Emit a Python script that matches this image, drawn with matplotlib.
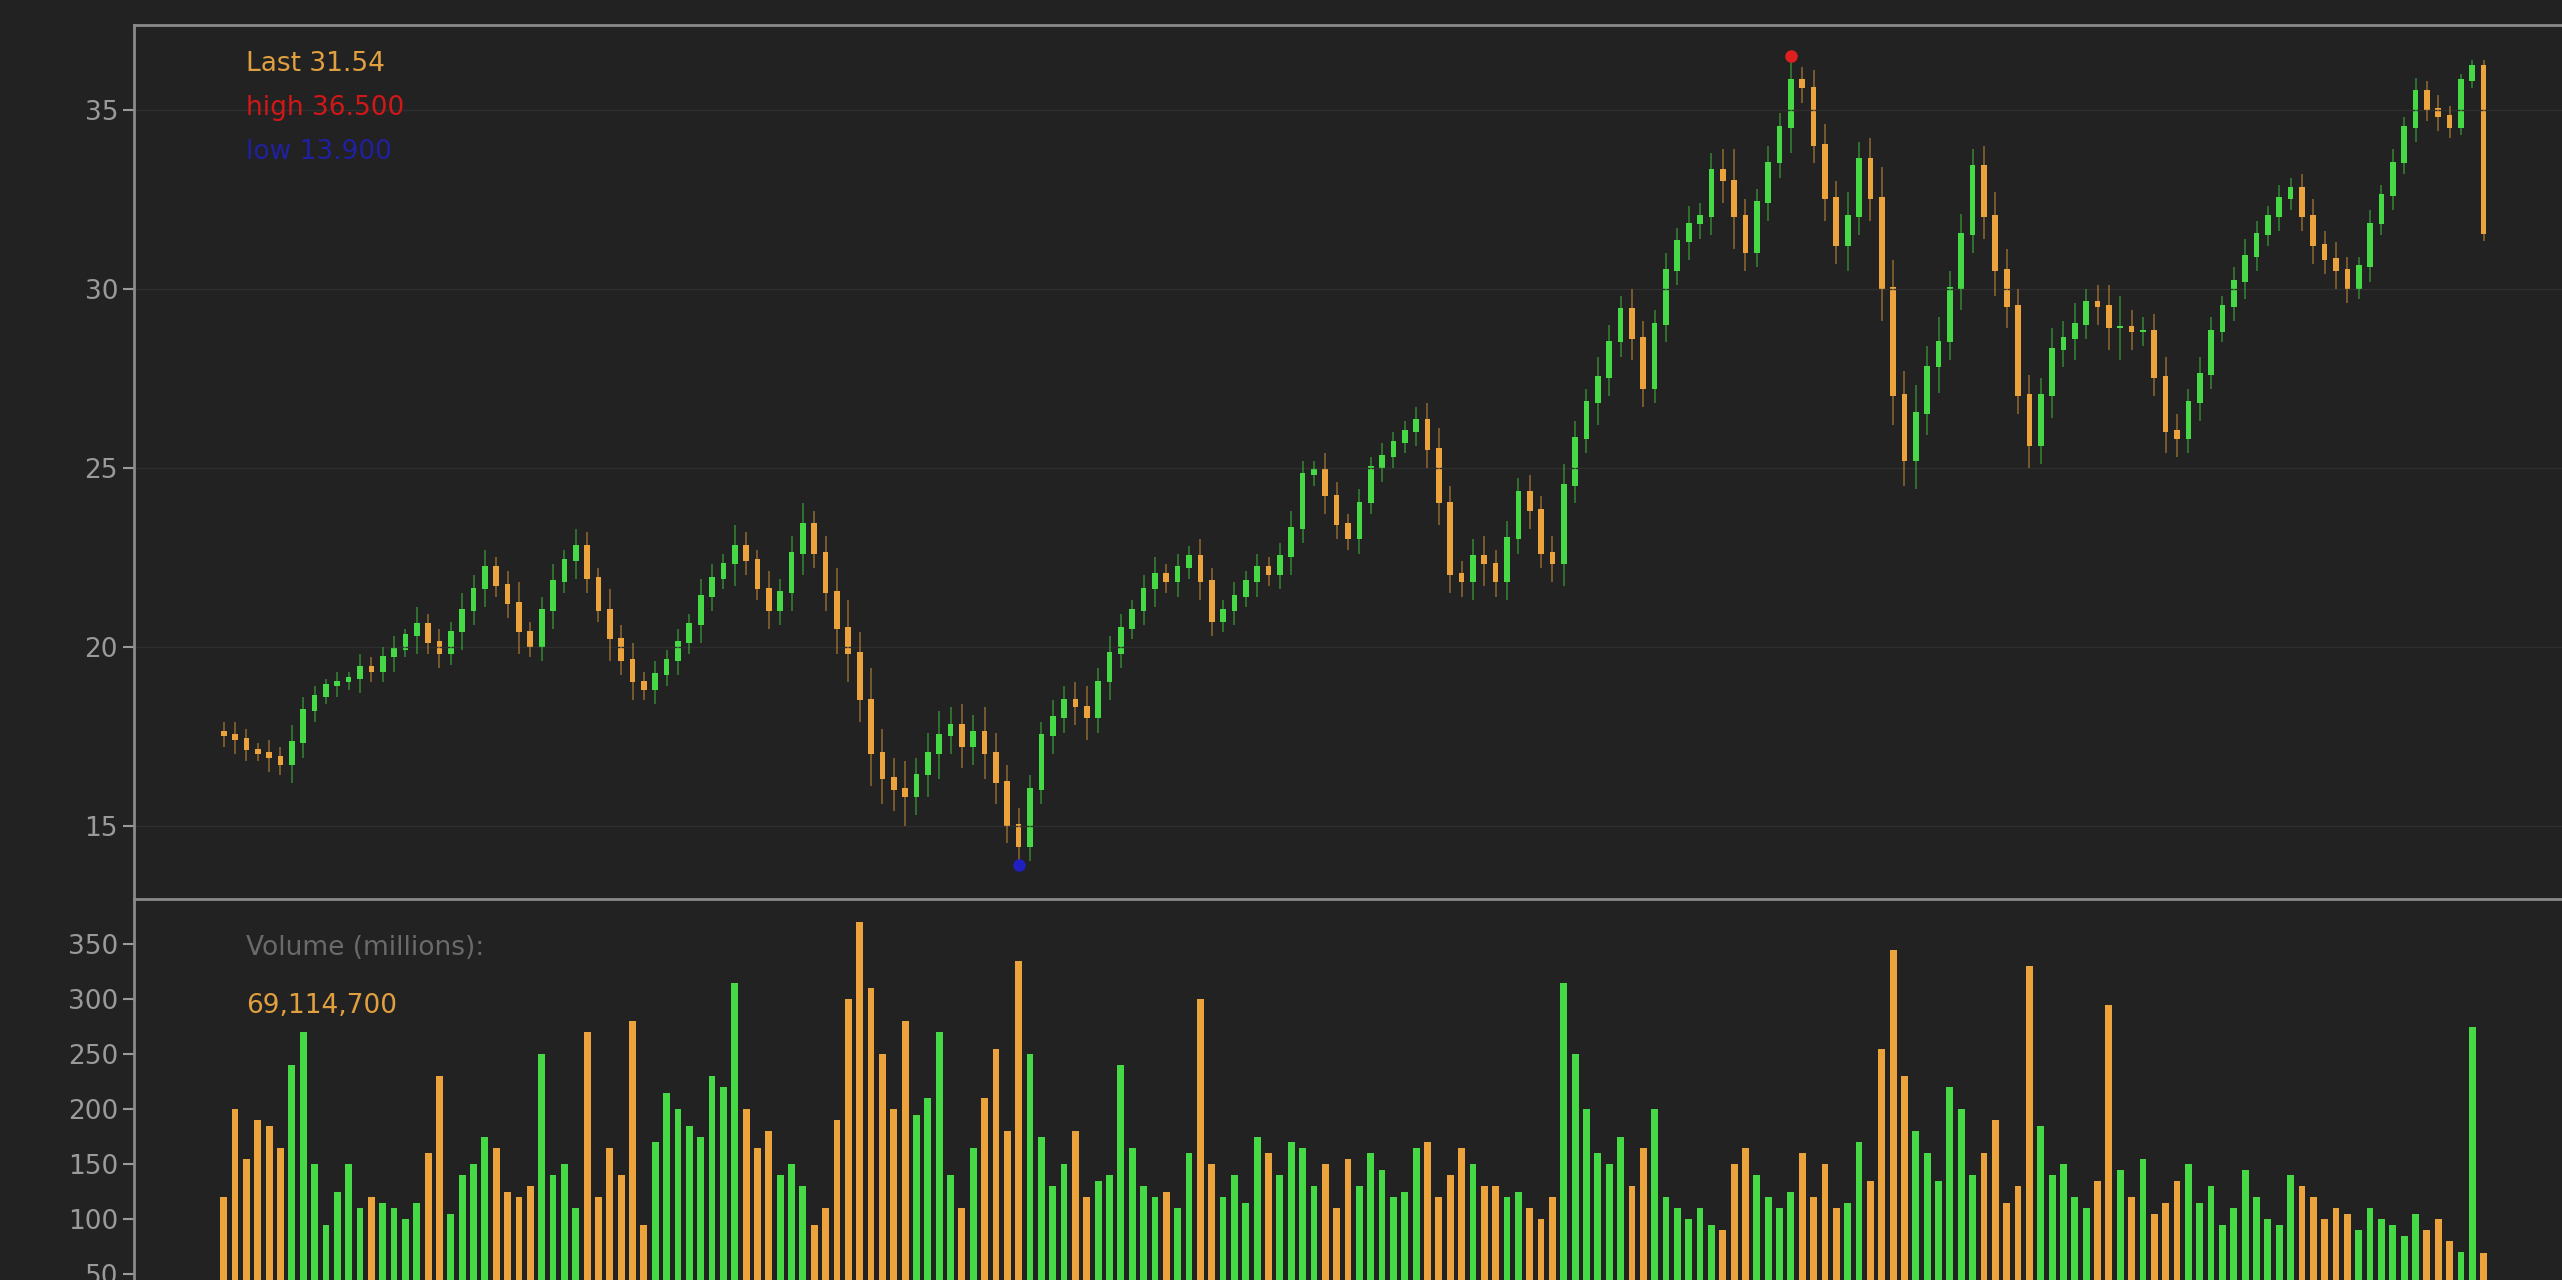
import matplotlib.pyplot as plt
import numpy as np

# closing prices
closes = [
    17.5, 17.4, 17.1, 17.0, 16.9, 16.7,
    17.3, 18.2, 18.6, 18.9,
    19.0, 19.1, 19.4, 19.3, 19.7, 19.9, 20.3, 20.6,
    20.1, 19.8,
    20.4, 21.0, 21.6, 22.2,
    21.7, 21.2, 20.4, 20.0,
    21.0, 21.8, 22.4, 22.8,
    21.9, 21.0, 20.2, 19.6, 19.0, 18.8,
    19.2, 19.6, 20.1,
    20.6, 21.4, 21.9, 22.3, 22.8,
    22.4, 21.6, 21.0,
    21.5, 22.6, 23.4,
    22.6, 21.5, 20.5, 19.8, 18.5,
    17.0, 16.3, 16.0, 15.8,
    16.4, 17.0, 17.5, 17.8,
    17.2, 17.6, 17.0, 16.2,
    15.0, 14.4,
    16.0, 17.5, 18.0, 18.5,
    18.3, 18.0, 19.0,
    19.8, 20.5, 21.0, 21.6, 22.0,
    21.8, 22.2, 22.5,
    21.8, 20.7, 21.0,
    21.4, 21.8, 22.2, 22.0,
    22.5, 23.3, 24.8,
    24.9, 24.2, 23.4,
    23.0, 24.0, 25.0,
    25.3, 25.7, 26.0, 26.3,
    25.5, 24.0, 22.0,
    21.8, 22.5, 22.3,
    21.8, 23.0, 24.3,
    23.8, 22.6, 22.3,
    24.5, 25.8, 26.8, 27.5,
    28.5, 29.4, 28.6,
    27.2, 29.0, 30.5,
    31.3, 31.8, 32.0,
    33.3, 33.0, 32.0, 31.0,
    32.4, 33.5, 34.5,
    35.8, 35.6,
    34.0, 32.5, 31.2,
    32.0, 33.6, 32.5,
    30.0, 27.0, 25.2,
    26.5, 27.8, 28.5,
    30.0, 31.5, 33.4,
    32.0, 30.5, 29.5,
    27.0, 25.6,
    27.0, 28.3, 28.6, 29.0,
    29.6, 29.5, 28.9,
    28.9, 28.8, 28.8,
    27.5, 26.0, 25.8,
    26.8, 27.6, 28.8,
    29.5, 30.2, 30.9,
    31.5, 32.0, 32.5, 32.8,
    32.0, 31.2, 30.8,
    30.5, 30.0, 30.6,
    31.8, 32.6, 33.5,
    34.5, 35.5, 35.0,
    34.8, 34.5, 35.8,
    36.2, 31.54,
]

# extra wick length beyond the body, per candle
spreads = [
    0.3, 0.4, 0.3, 0.2, 0.4, 0.3, 0.5, 0.4, 0.3, 0.2,
    0.3, 0.2, 0.4, 0.3, 0.3, 0.4, 0.2, 0.5, 0.3, 0.4,
    0.3, 0.5, 0.4, 0.5, 0.3, 0.4, 0.6, 0.3, 0.4, 0.5,
    0.3, 0.5, 0.4, 0.3, 0.6, 0.4, 0.5, 0.3, 0.4, 0.3,
    0.4, 0.3, 0.5, 0.4, 0.3, 0.6, 0.4, 0.3, 0.5, 0.4,
    0.5, 0.6, 0.4, 0.5, 0.7, 0.8, 0.6, 0.9, 0.7, 0.6,
    0.8, 0.5, 0.6, 0.7, 0.5, 0.6, 0.5, 0.7, 0.6, 0.5,
    0.5, 0.4, 0.4, 0.5, 0.4, 0.5, 0.6, 0.4, 0.5, 0.4,
    0.3, 0.4, 0.5, 0.3, 0.4, 0.3, 0.5, 0.4, 0.3, 0.4,
    0.3, 0.4, 0.3, 0.4, 0.5, 0.4, 0.3, 0.5, 0.4, 0.3,
    0.4, 0.3, 0.4, 0.3, 0.3, 0.4, 0.5, 0.6, 0.5, 0.4,
    0.5, 0.6, 0.4, 0.5, 0.4, 0.5, 0.4, 0.5, 0.6, 0.5,
    0.4, 0.6, 0.5, 0.4, 0.6, 0.5, 0.4, 0.5, 0.4, 0.5,
    0.4, 0.5, 0.6, 0.9, 0.5, 0.4, 0.5, 0.4, 0.7, 0.4,
    0.5, 0.6, 0.5, 0.7, 0.5, 0.6, 0.9, 0.8, 0.7, 0.8,
    0.6, 0.7, 0.5, 0.6, 0.5, 0.6, 0.7, 0.6, 0.5, 0.6,
    0.5, 0.6, 0.5, 0.6, 0.4, 0.5, 0.6, 0.9, 0.5, 0.4,
    0.5, 0.6, 0.5, 0.4, 0.5, 0.4, 0.3, 0.4, 0.5, 0.4,
    0.3, 0.4, 0.3, 0.4, 0.5, 0.4, 0.5, 0.4, 0.3, 0.4,
    0.3, 0.4, 0.3, 0.4, 0.3, 0.4, 0.3, 0.2, 0.2, 0.2,
]

# daily volume, millions
volumes = [
    120, 200, 155, 190, 185, 165, 240, 270, 150, 95,
    125, 150, 110, 120, 115, 110, 100, 115, 160, 230,
    105, 140, 150, 175, 165, 125, 120, 130, 250, 140,
    150, 110, 270, 120, 165, 140, 280, 95, 170, 215,
    200, 185, 175, 230, 220, 315, 200, 165, 180, 140,
    150, 130, 95, 110, 190, 300, 370, 310, 250, 200,
    280, 195, 210, 270, 140, 110, 165, 210, 255, 180,
    335, 250, 175, 130, 150, 180, 120, 135, 140, 240,
    165, 130, 120, 125, 110, 160, 300, 150, 120, 140,
    115, 175, 160, 140, 170, 165, 130, 150, 110, 155,
    130, 160, 145, 120, 125, 165, 170, 120, 140, 165,
    150, 130, 130, 120, 125, 110, 100, 120, 315, 250,
    200, 160, 150, 175, 130, 165, 200, 120, 110, 100,
    110, 95, 90, 150, 165, 140, 120, 110, 125, 160,
    120, 150, 110, 115, 170, 135, 255, 345, 230, 180,
    160, 135, 220, 200, 140, 160, 190, 115, 130, 330,
    185, 140, 150, 120, 110, 135, 295, 145, 120, 155,
    105, 115, 135, 150, 115, 130, 95, 110, 145, 120,
    100, 95, 140, 130, 120, 100, 110, 105, 90, 110,
    100, 95, 85, 105, 90, 100, 80, 70, 275, 69.1147,
]

BG = "#222222"
UP = "#45d945"
DOWN = "#eda33c"
TXT = "#9a9a9a"

closes = np.array(closes)
spreads = np.array(spreads)
opens = np.concatenate([[closes[0] + 0.1], closes[:-1]])
highs = np.maximum(opens, closes) + spreads
lows = np.minimum(opens, closes) - spreads
up = closes >= opens
colors = np.where(up, UP, DOWN)
x = np.arange(len(closes))
n = len(closes)

fig = plt.figure(figsize=(25.62, 12.8), dpi=100, facecolor=BG)
ax = fig.add_axes([0.0523, 0.2977, 0.9477, 0.6828], facecolor=BG)
axv = fig.add_axes([0.0523, 0.0, 0.9477, 0.2977], facecolor=BG)

ax.vlines(x, lows, highs, colors=colors, linewidth=1.2, alpha=0.5)
ax.bar(x, np.abs(closes - opens) + 0.05, bottom=np.minimum(opens, closes),
       width=0.5, color=colors, linewidth=0)

hi_i = int(np.argmax(highs))
lo_i = int(np.argmin(lows))
ax.plot(x[hi_i], highs[hi_i], "o", color="#e02020", ms=8)
ax.plot(x[lo_i], lows[lo_i], "o", color="#2020c0", ms=8)

ax.set_ylim(12.95, 37.37)
ax.set_xlim(-7.9, n - 1 + 6.9)
ax.set_yticks([15, 20, 25, 30, 35])
ax.grid(axis="y", color="#2f2f2f", linewidth=1)

ax.text(0.046, 0.955, f"Last {closes[-1]:.2f}", transform=ax.transAxes,
        color="#e0a040", fontsize=19, va="center")
ax.text(0.046, 0.905, f"high {highs[hi_i]:.3f}", transform=ax.transAxes,
        color="#d01818", fontsize=19, va="center")
ax.text(0.046, 0.855, f"low {lows[lo_i]:.3f}", transform=ax.transAxes,
        color="#2020a0", fontsize=19, va="center")

axv.bar(x, volumes, width=0.6, color=colors, linewidth=0)
axv.set_ylim(45, 391)
axv.set_xlim(-7.9, n - 1 + 6.9)
axv.set_yticks([50, 100, 150, 200, 250, 300, 350])
axv.text(0.046, 0.87, "Volume (millions):", transform=axv.transAxes,
         color="#6a6a6a", fontsize=19, va="center")
axv.text(0.046, 0.72, f"{volumes[-1] * 1e6:,.0f}", transform=axv.transAxes,
         color="#e0a040", fontsize=19, va="center")

for a in (ax, axv):
    a.set_xticks([])
    a.tick_params(axis="y", colors=TXT, labelsize=19, length=8, width=1.5)
    for s in ("right", "bottom"):
        a.spines[s].set_visible(False)
    for s in ("left", "top"):
        a.spines[s].set_color("#8a8a8a")
        a.spines[s].set_linewidth(2)

fig.savefig("out.png", facecolor=BG)
